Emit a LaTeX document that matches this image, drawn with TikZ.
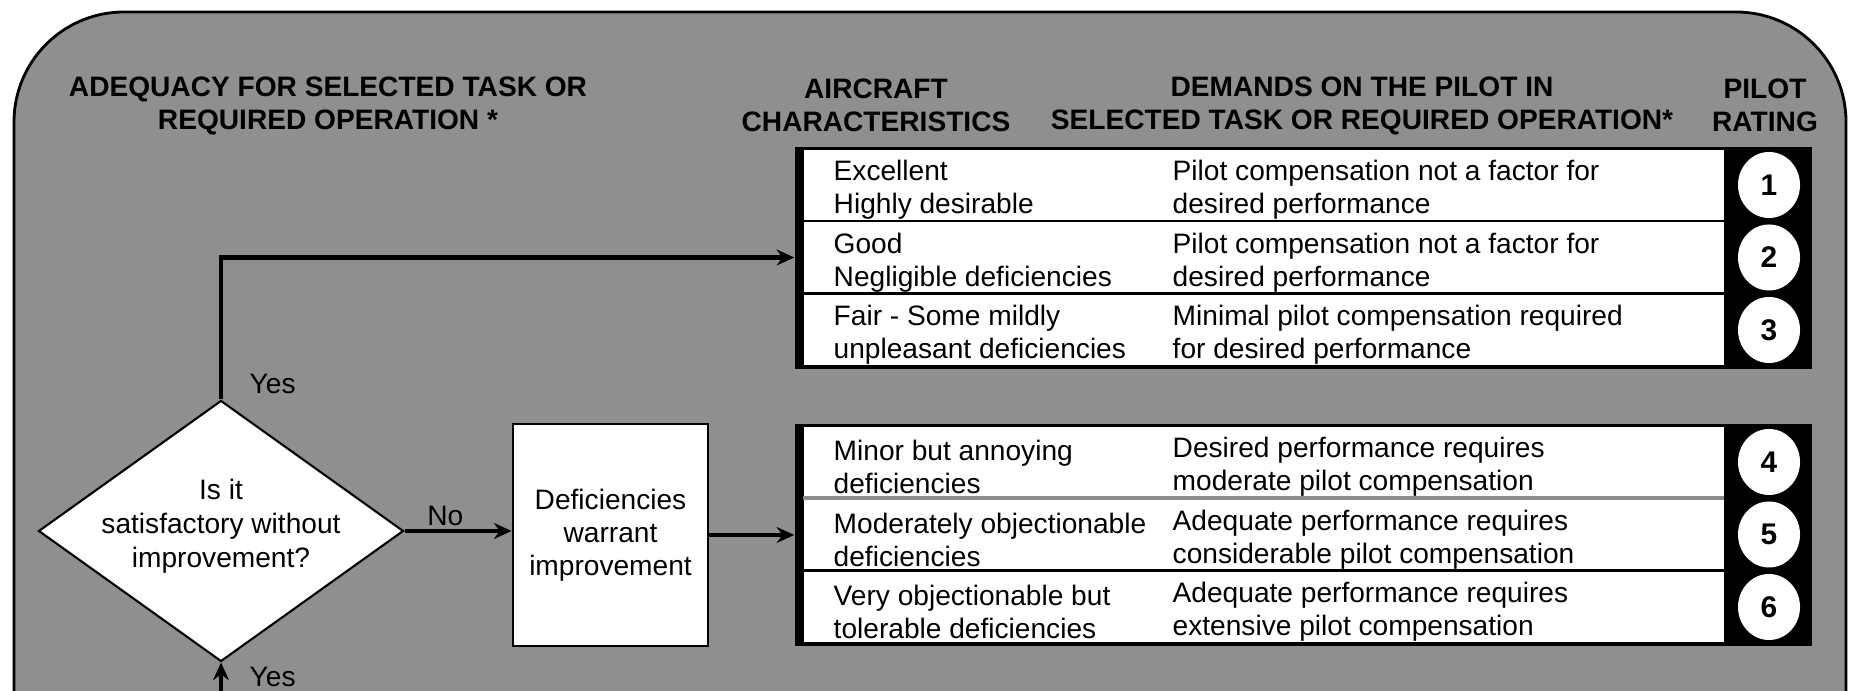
\documentclass[tikz,border=0pt]{standalone}
\usepackage{fontspec}
\setmainfont{Liberation Sans}
\usetikzlibrary{shapes.geometric,positioning,arrows.meta}

\tikzset{
  panel/.style={fill=black!44, draw=black, line width=0.8pt, rounded corners=1.1cm},
  head/.style={font=\fontsize{8}{9.4}\selectfont\bfseries, align=center},
  frame/.style={fill=black, inner sep=0, minimum width=10.17cm, minimum height=2.22cm},
  cell/.style={fill=white, inner sep=0, minimum width=9.20cm, minimum height=0.70cm, anchor=west},
  txt/.style={font=\fontsize{8}{9.4}\selectfont, align=left, anchor=west, inner sep=0, yshift=-0.05cm},
  rate/.style={ellipse, fill=white, inner sep=0, minimum width=0.62cm, minimum height=0.66cm,
    font=\fontsize{8.5}{10}\selectfont\bfseries},
  quest/.style={diamond, draw=black, fill=white, line width=0.6pt, shape aspect=1.4, inner sep=-2.5pt,
    minimum width=3.65cm, minimum height=2.61cm, align=center, font=\fontsize{8}{9.6}\selectfont},
  fixbox/.style={draw=black, fill=white, line width=0.8pt, minimum width=1.95cm, minimum height=2.22cm,
    align=center, font=\fontsize{8}{9.4}\selectfont},
  conn/.style={line width=1.2pt, -{Stealth[length=5pt,width=4.5pt]}},
  lbl/.style={font=\fontsize{8}{9.4}\selectfont, inner sep=0},
}

\begin{document}
\begin{tikzpicture}
    \clip (0,0) rectangle (18.51,6.91);
    %% Panel
    \fill[white] (0,0) rectangle (18.51,6.91);
    \draw[panel] (0.14,-1.5) rectangle (18.46,6.79);
    %% Headers
    \node[head] (hadq) at (3.28,5.855) {ADEQUACY FOR SELECTED TASK OR\\REQUIRED OPERATION *};
    \node[head] (hchar) at (8.76,5.855) {AIRCRAFT\\CHARACTERISTICS};
    \node[head] (hdem) at (13.62,5.855) {DEMANDS ON THE PILOT IN\\SELECTED TASK OR REQUIRED OPERATION*};
    \node[head] (hrate) at (17.65,5.855) {PILOT\\RATING};
    %% Upper table
    \node[frame] (upper) at (13.035,4.33) {};
    \node[cell] (row1) at (8.03,5.06) {};
    \node[cell] (row2) at (8.03,4.335) {};
    \node[cell] (row3) at (8.03,3.61) {};
    \node[txt] (c1) at (8.33,5.06) {Excellent\\Highly desirable};
    \node[txt] (d1) at (11.72,5.06) {Pilot compensation not a factor for\\desired performance};
    \node[txt] (c2) at (8.33,4.335) {Good\\Negligible deficiencies};
    \node[txt] (d2) at (11.72,4.335) {Pilot compensation not a factor for\\desired performance};
    \node[txt] (c3) at (8.33,3.61) {Fair - Some mildly\\unpleasant deficiencies};
    \node[txt] (d3) at (11.72,3.61) {Minimal pilot compensation required\\for desired performance};
    \node[rate] (r1) at (17.69,5.06) {1};
    \node[rate] (r2) at (17.69,4.335) {2};
    \node[rate] (r3) at (17.69,3.61) {3};
    %% Lower table
    \node[frame] (lower) at (13.035,1.56) {};
    \node[cell] (row4) at (8.03,2.29) {};
    \node[cell] (row5) at (8.03,1.565) {};
    \node[cell] (row6) at (8.03,0.84) {};
    \draw[black!45, line width=1.2pt] (row4.south west) -- (row4.south east);
    \node[txt] (c4) at (8.33,2.29) {Minor but annoying\\deficiencies};
    \node[txt] (d4) at (11.72,2.29) {Desired performance requires\\moderate pilot compensation};
    \node[txt] (c5) at (8.33,1.565) {Moderately objectionable\\deficiencies};
    \node[txt] (d5) at (11.72,1.565) {Adequate performance requires\\considerable pilot compensation};
    \node[txt] (c6) at (8.33,0.84) {Very objectionable but\\tolerable deficiencies};
    \node[txt] (d6) at (11.72,0.84) {Adequate performance requires\\extensive pilot compensation};
    \node[rate] (r4) at (17.69,2.29) {4};
    \node[rate] (r5) at (17.69,1.565) {5};
    \node[rate] (r6) at (17.69,0.84) {6};
    %% Flow
    \node[quest] (q) at (2.21,1.60) {Is it\\satisfactory without\\improvement?\rule[-0.15cm]{0pt}{0pt}};
    \node[fixbox] (fix) at (6.105,1.56) {Deficiencies\\warrant\\improvement};
    \coordinate (entry) at (2.21,-0.2);
    \draw[conn] (q.north) |- (upper.west |- row2.center);
    \draw[conn] (q.east) -- (q.east -| fix.west) node[lbl, pos=0.38, above=1pt] (no) {No};
    \draw[conn] (fix.east) -- (lower.west |- fix.east);
    \draw[conn] (entry) -- (q.south);
    \node[lbl, above right=0.05cm and 0.28cm of q.north] (yes1) {Yes};
    \node[lbl, below right=0.04cm and 0.28cm of q.south] (yes2) {Yes};
\end{tikzpicture}
\end{document}
